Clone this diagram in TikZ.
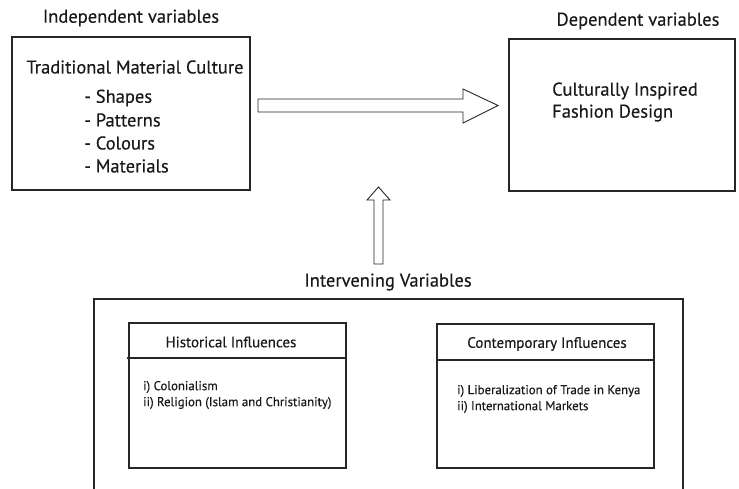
\documentclass[tikz,border=0pt]{standalone}
\usepackage{fontspec}
\setmainfont{PT Sans}[FakeBold=0.35]
\begin{document}
\begin{tikzpicture}[x=1pt,y=-1pt,
  box/.style={draw=black!85,line width=1.1pt},
  lbl/.style={inner sep=0pt,text=black!90},
  big/.style={lbl,font=\fontsize{18.5}{22}\selectfont},
  mid/.style={lbl,font=\fontsize{15}{18}\selectfont},
  small/.style={lbl,font=\fontsize{12.8}{16}\selectfont,align=left,anchor=west}]
\useasboundingbox (0,0) rectangle (739,488);
% top boxes
\draw[box] (12,37) rectangle (250,190);
\draw[box] (509,39) rectangle (735,191);
\node[big] (iv) at (131,18) {Independent variables};
\node[big] (dv) at (638,21) {Dependent variables};
\node[big] (tmc) at (135,67) {Traditional Material Culture};
\node[big,anchor=west] (s1) at (84,98) {- Shapes};
\node[big,anchor=west] (s2) at (84,120) {- Patterns};
\node[big,anchor=west] (s3) at (84,143) {- Colours};
\node[big,anchor=west] (s4) at (84,166) {- Materials};
\node[big,anchor=west,align=left] (cifd) at (552,102) {Culturally Inspired\\Fashion Design};
% block arrows
\draw[line width=0.9pt,draw=black!85] (258,99) -- (463,99) -- (463,89) -- (498,105.5) -- (463,123) -- (463,112) -- (258,112) -- cycle;
\draw[line width=0.9pt,draw=black!85] (374,264) -- (374,200) -- (367,200) -- (378.5,187) -- (390,200) -- (383,200) -- (383,264) -- cycle;
\node[big] (ivv) at (388,282) {Intervening Variables};
% bottom frame (open bottom, goes past the edge)
\draw[box] (94,490) -- (94,299) -- (683,299) -- (683,490);
% historical
\draw[box] (129,323) rectangle (346,468);
\draw[box] (127,358) -- (346,358);
\node[mid] (hi) at (231,342) {Historical Influences};
\node[small] (hl) at (143,395) {i) Colonialism\\ii) Religion (Islam and Christianity)};
% contemporary
\draw[box] (437,324) rectangle (654,468);
\draw[box] (437,360) -- (654,360);
\node[mid] (ci) at (547,344) {Contemporary Influences};
\node[small] (cl) at (457,399) {i) Liberalization of Trade in Kenya\\ii) International Markets};
\end{tikzpicture}
\end{document}
